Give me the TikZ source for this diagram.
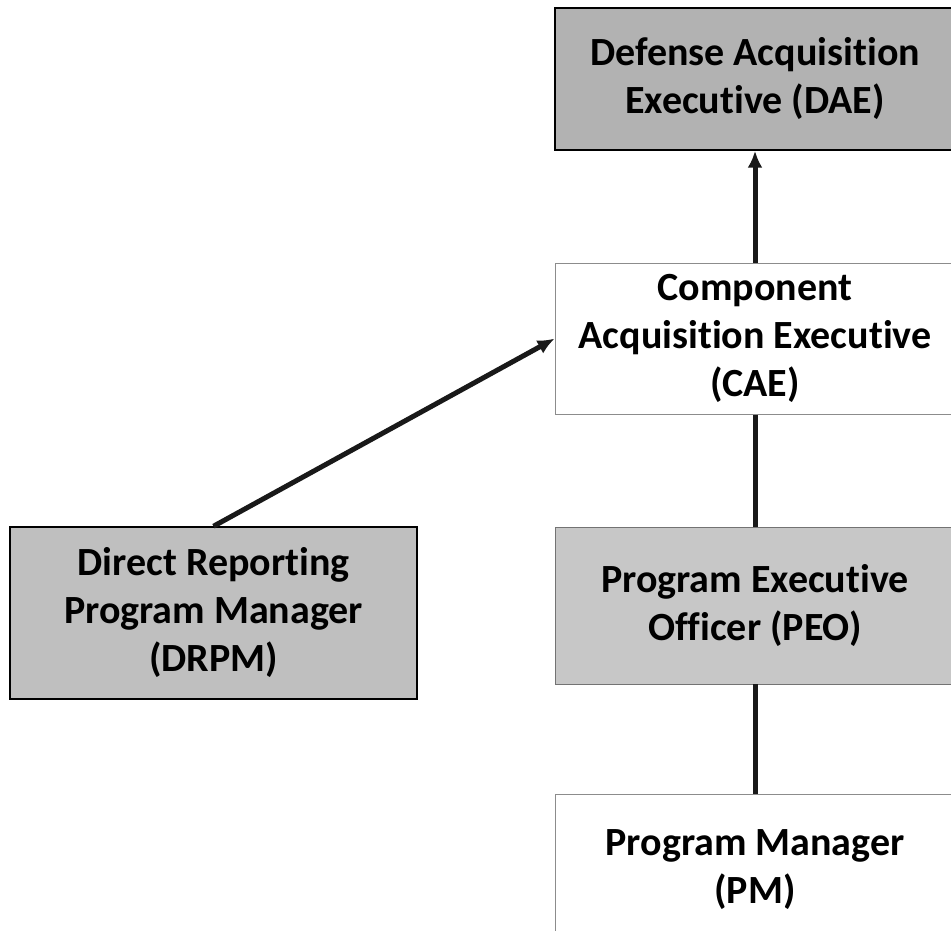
\documentclass[tikz,border=0pt]{standalone}
\usepackage{fontspec}
\setmainfont{Carlito}[Ligatures=NoCommon]
\usetikzlibrary{positioning,arrows.meta}

\tikzset{
    office/.style={rectangle, align=center, inner sep=0pt, minimum width=400pt,
        font=\fontsize{40}{48}\selectfont\bfseries},
    shaded/.style={office, fill=black!30, draw=black, line width=1.5pt},
    plain/.style={office, fill=white, draw=black!45, line width=0.8pt},
    link/.style={line width=5pt, black!90},
    tip/.style={-{Latex[length=17pt,width=15pt]}}
}

\begin{document}
\begin{tikzpicture}[x=1pt,y=1pt,node distance=112pt]
            \useasboundingbox (0,0) rectangle (951,931);
            \clip (0,0) rectangle (951,931);
            \node[shaded, minimum height=142pt] (dae) at (755,852) {Defense Acquisition\\Executive (DAE)};
            \node[plain, minimum height=151pt, below=of dae] (cae) {Component\\Acquisition Executive\\(CAE)};
            \node[shaded, fill=black!22, draw=black!55, line width=0.8pt, minimum height=157pt, below=of cae] (peo) {Program Executive\\Officer (PEO)};
            \node[plain, minimum height=150pt, below=110pt of peo] (pm) {Program Manager\\(PM)};
            \node[shaded, fill=black!25, minimum width=407pt, minimum height=172pt] (drpm) at (213.5,318) {Direct Reporting\\Program Manager\\(DRPM)};
            \draw[link, tip] (cae) -- (dae);
            \foreach \A/\B in {cae/peo,peo/pm}
                \draw[link] (\A) -- (\B);
            \draw[link, tip] (drpm.north) -- (cae.west);
        \end{tikzpicture}
\end{document}
